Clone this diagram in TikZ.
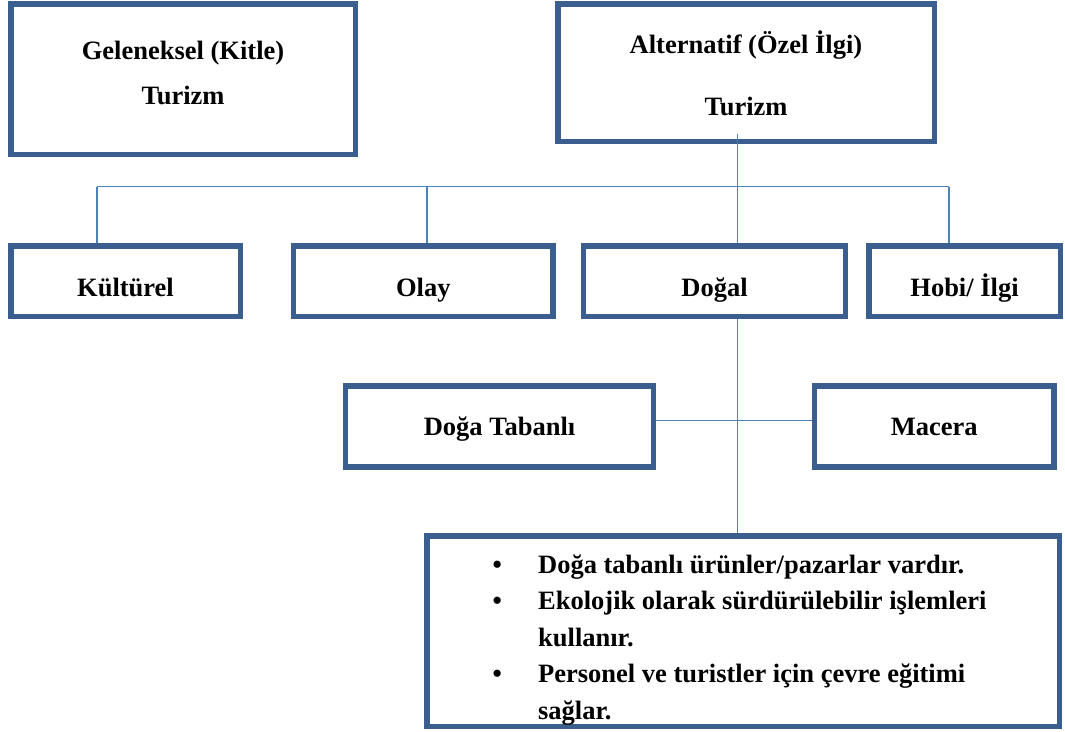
\documentclass[tikz,border=0pt]{standalone}
\usepackage{fontspec}
\setmainfont{Liberation Serif}
\usetikzlibrary{calc}
\definecolor{boxblue}{HTML}{3A5F8E}
\definecolor{lineblue}{HTML}{4F81BD}
\begin{document}
\begin{tikzpicture}[x=1pt,y=-1pt,
  box/.style={draw=boxblue, line width=5.5pt, rectangle, inner sep=0pt, fill=white,
              font=\fontsize{26.5}{30}\selectfont\bfseries},
  rowbox/.style={box, minimum height=70.5pt, text height=30pt, text depth=0pt},
  midbox/.style={box, minimum height=81.25pt, text height=25pt, text depth=8pt},
  conn/.style={draw=lineblue, line width=1.8pt}]
\fill[white] (0,0) rectangle (1065,731);
\useasboundingbox (0,0) rectangle (1065,731);

% top boxes
\node[box, minimum width=344.5pt, minimum height=150.5pt, align=center] (gel) at (183,79)
  {\rule{0pt}{30pt}Geleneksel (Kitle)\\[14.7pt]Turizm\rule[-24.7pt]{0pt}{24.7pt}};
\node[box, minimum width=376.5pt, minimum height=137.5pt, align=center] (alt) at (746,72.5)
  {\rule{0pt}{30pt}Alternatif (Özel İlgi)\\[31.7pt]Turizm\rule[-6.7pt]{0pt}{6.7pt}};

% row boxes
\node[rowbox, minimum width=229.5pt] (kul) at (125.5,281) {Kültürel};
\node[rowbox, minimum width=259.5pt] (olay) at (423.25,281) {Olay};
\node[rowbox, minimum width=262pt] (dogal) at (714.5,281) {Doğal};
\node[rowbox, minimum width=191.5pt] (hobi) at (964.5,281) {Hobi/ İlgi};

% middle boxes
\node[midbox, minimum width=308pt] (doga) at (499.5,426.6) {Doğa Tabanlı};
\node[midbox, minimum width=239.5pt] (macera) at (934.25,426.6) {Macera};

% info box
\node[box, minimum width=632.5pt, minimum height=190.5pt] (info) at (743,631) {};
\node[anchor=base west, inner sep=0pt, font=\fontsize{26.5}{36.5}\selectfont\bfseries] (infotext) at (492.3,573)
  {\begin{tabular}[t]{@{}l@{\hspace{36.4pt}}l@{}}
   •&Doğa tabanlı ürünler/pazarlar vardır.\\
   •&Ekolojik olarak sürdürülebilir işlemleri\\
    &kullanır.\\
   •&Personel ve turistler için çevre eğitimi\\
    &sağlar.
   \end{tabular}};

% connectors
\coordinate (bx) at (737.5,186.5);
\coordinate (b1) at (97,186.5);
\coordinate (b2) at (427,186.5);
\coordinate (b4) at (949,186.5);
\coordinate (hx) at (737.5,420.5);
\draw[conn] ($(bx |- alt.south)+(0,-10.5)$) -- (bx) -- (bx |- dogal.north);
\draw[conn] (b1) -- (b4);
\draw[conn] (b1) -- (b1 |- kul.north);
\draw[conn] (b2) -- (b2 |- olay.north);
\draw[conn] (b4) -- (b4 |- hobi.north);
\draw[conn] (bx |- dogal.south) -- (bx |- info.north);
\draw[conn] (hx -| doga.east) -- (hx -| macera.west);
\end{tikzpicture}
\end{document}
